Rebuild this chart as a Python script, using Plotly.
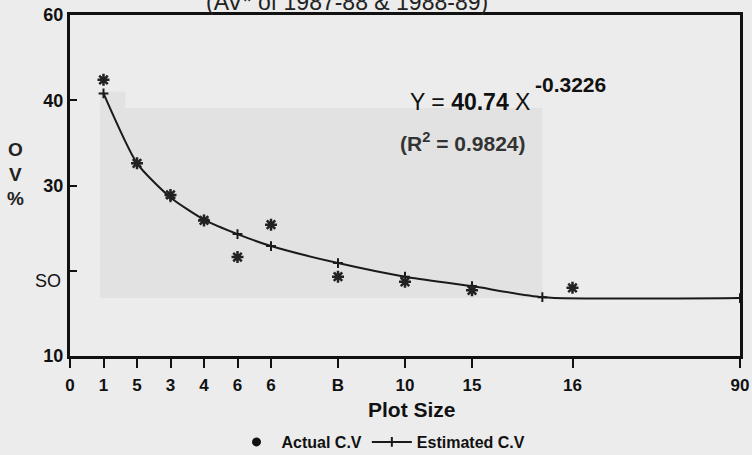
import plotly.graph_objects as go

# ---- data ----
plot_size = [1, 2, 3, 4, 5, 6, 8, 10, 12, 15]
actual_cv = [42.4, 32.6, 28.9, 25.9, 21.6, 25.4, 19.3, 18.7, 17.7, 18.0]

est_x = [1, 2, 3, 4, 5, 6, 8, 10, 12, 14.1, 20]
est_cv = [40.8, 32.6, 28.6, 26.0, 24.3, 22.9, 20.9, 19.3, 18.2, 16.9, 16.8]

x_tickvals = [0, 1, 2, 3, 4, 5, 6, 8, 10, 12, 15, 20]
x_ticktext = ["0", "1", "5", "3", "4", "6", "6", "B", "10", "15", "16", "90"]
y_tickvals = [10, 20, 30, 40, 50]
y_ticktext = ["10", "", "30", "40", "60"]

BG = "#ececec"
SHADE = "#e2e2e2"
FONT = "Liberation Sans, Arial"

fig = go.Figure()

# estimated curve
fig.add_trace(go.Scatter(
    x=est_x, y=est_cv, mode="lines+markers", name="<b>Estimated C.V</b>",
    line=dict(color="#1a1a1a", width=2, shape="spline", smoothing=0.6),
    marker=dict(symbol="cross-thin-open", size=7, line=dict(color="#1a1a1a", width=2)),
))
# actual points (asterisks)
fig.add_trace(go.Scatter(
    x=plot_size, y=actual_cv, mode="markers", showlegend=False,
    marker=dict(symbol="asterisk-open", size=10, color="#222", line=dict(color="#222", width=2.5)),
))
# legend entry for actual (shown as dot in the reference legend)
fig.add_trace(go.Scatter(
    x=[None], y=[None], mode="markers", name="<b>Actual C.V</b>",
    marker=dict(symbol="circle", size=9, color="#111"),
))

# shaded background block (scan artefact)
fig.add_shape(type="rect", xref="x", yref="y", x0=0.9, x1=14.1, y0=16.8, y1=39.1,
              fillcolor=SHADE, line=dict(width=0), layer="below")
fig.add_shape(type="rect", xref="x", yref="y", x0=0.9, x1=1.65, y0=39.1, y1=41.0,
              fillcolor=SHADE, line=dict(width=0), layer="below")

def px(xp, yp):
    return (xp - 70) / 670, (356 - yp) / 341

ann = []
# cut-off title
tx, ty = px(347, 0)
ann.append(dict(text="(AV* of 1987-88 & 1988-89)", x=tx, y=1, xref="paper", yref="paper",
                yshift=13, showarrow=False, xanchor="center", yanchor="middle",
                font=dict(family="Liberation Sans, Arial", size=23, color="#222")))
# y-axis title
yx, yy = px(15, 174)
ann.append(dict(text="<b>O</b><br><b>V</b><br><b>%</b>", x=yx, y=yy, xref="paper", yref="paper",
                showarrow=False, xanchor="center", yanchor="middle", align="center",
                font=dict(family=FONT, size=19, color="#222")))
# odd "SO" tick label
sx, sy = px(48, 281)
ann.append(dict(text="SO", x=sx, y=sy, xref="paper", yref="paper", showarrow=False,
                xanchor="center", yanchor="middle",
                font=dict(family="Liberation Sans, Arial", size=18, color="#111")))
# x-axis title
ax, ay = px(412, 409)
ann.append(dict(text="<b>Plot Size</b>", x=ax, y=ay, xref="paper", yref="paper", showarrow=False,
                xanchor="center", yanchor="middle",
                font=dict(family=FONT, size=21, color="#111")))
# equation
ex, ey = px(408, 102)
ann.append(dict(text="Y = <b>40.74</b> X", x=ex, y=ey, xref="paper", yref="paper", showarrow=False,
                xanchor="left", yanchor="middle",
                font=dict(family="Liberation Sans, Arial", size=23, color="#111")))
sx2, sy2 = px(533, 84)
ann.append(dict(text="<b>-0.3226</b>", x=sx2, y=sy2, xref="paper", yref="paper", showarrow=False,
                xanchor="left", yanchor="middle",
                font=dict(family=FONT, size=21, color="#111")))
rx, ry = px(398, 142)
ann.append(dict(text="<b>(R<sup>2</sup> = 0.9824)</b>", x=rx, y=ry, xref="paper", yref="paper",
                showarrow=False, xanchor="left", yanchor="middle",
                font=dict(family=FONT, size=21, color="#333")))

fig.update_layout(
    width=752, height=455,
    margin=dict(l=70, r=12, t=15, b=99, autoexpand=False),
    paper_bgcolor=BG, plot_bgcolor=BG,
    font=dict(family=FONT, color="#111"),
    annotations=ann,
    legend=dict(orientation="h", x=381 / 752, xanchor="center",
                xref="container", yref="container", y=(455 - 425) / 455, yanchor="top",
                traceorder="reversed", font=dict(family=FONT, size=16, color="#111"),
                bgcolor="rgba(0,0,0,0)", itemwidth=40),
    xaxis=dict(range=[0, 20], tickvals=x_tickvals, ticktext=["<b>%s</b>" % t for t in x_ticktext],
               showline=True, linecolor="#111", linewidth=3, mirror=True,
               ticks="outside", ticklen=9, tickwidth=1.5, tickcolor="#111",
               showgrid=False, zeroline=False, automargin=False,
               tickfont=dict(family=FONT, size=17, color="#111"),
               ticklabelstandoff=3),
    yaxis=dict(range=[10, 50], tickvals=y_tickvals,
               ticktext=["<b>%s</b>" % t if t else " " for t in y_ticktext],
               showline=True, linecolor="#111", linewidth=3, mirror=True,
               ticks="inside", ticklen=7, tickwidth=2, tickcolor="#111",
               showgrid=False, zeroline=False, automargin=False,
               tickfont=dict(family=FONT, size=18, color="#111")),
)

fig.write_html(
    "out.html",
    config={"displayModeBar": False},
    post_script="document.body.style.margin='0';document.body.style.overflow='hidden';"
                "document.body.style.background='#ececec';",
)
